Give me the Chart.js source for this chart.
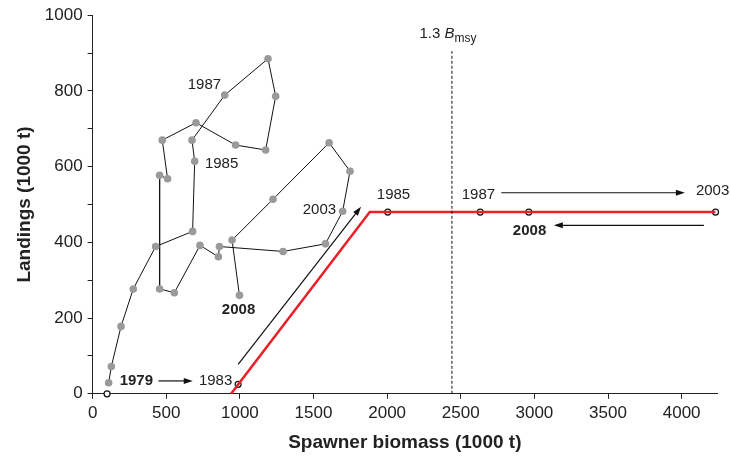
<!DOCTYPE html>
<html>
<head>
<meta charset="utf-8">
<script src="https://cdn.jsdelivr.net/npm/chart.js@4.4.1/dist/chart.umd.min.js"></script>
<style>
  html, body { margin: 0; padding: 0; background: #fff; }
  #wrap { width: 730px; height: 458px; }
</style>
</head>
<body>
<div id="wrap"><canvas id="hcrChart"></canvas></div>
<script>
// 1) data
const years = [1979,1980,1981,1982,1983,1984,1985,1986,1987,1988,1989,1990,1991,1992,1993,
               1994,1995,1996,1997,1998,1999,2000,2001,2002,2003,2004,2005,2006,2007,2008];
const biomass  = [109,127,193,276,428,679,693,675,897,1191,1243,1175,971,702,473,
                  509,455,455,555,729,854,861,1293,1581,1698,1748,1606,1225,947,997];
const landings = [29,72,178,277,389,429,614,670,789,885,786,644,657,716,670,
                  568,577,277,267,392,362,389,376,396,482,588,663,514,406,260];

// harvest control rule (red line)
const hcrX = [940, 1882, 4230];
const hcrY = [0, 480, 480];

// years positioned on the rule (open circles)
const hcrYears = ['1979', '1983', '1985', '1987', '2008', '2003'];
const hcrPtX = [98, 988, 2004, 2632, 2962, 4230];
const hcrPtY = [0, 25, 480, 480, 480, 480];

// 1.3 Bmsy reference line
const bmsyX = 2440;
const bmsyTop = 905;

// axis ticks
const xTicks = [0, 500, 1000, 1500, 2000, 2500, 3000, 3500, 4000];
const yTicks = [0, 100, 200, 300, 400, 500, 600, 700, 800, 900, 1000];

// 2) text labels and arrows (data coordinates)
const labelText = ['1987', '1985', '2003', '2008', '1979', '1983', '1985', '1987', '2003', '2008'];
const labelX    = [759, 876, 1540, 991, 297, 835, 2043, 2620, 4210, 2967];
const labelY    = [815, 607, 485, 222, 34, 34, 525, 525, 535, 430];
const labelBold = [false, false, false, true, true, false, false, false, false, true];

const arrowFrom = [[447, 34], [988, 78], [2775, 531], [4151, 445]];
const arrowTo   = [[680, 34], [1823, 494], [4022, 531], [3132, 445]];

const FONT = 'Arial, "Liberation Sans", sans-serif';
const INK = '#222';

const toPts = (xs, ys) => xs.map((x, i) => ({ x, y: ys[i] }));

// === annotations plugin ===
const annotations = {
  id: 'annotations',
  afterDraw(chart) {
    const { ctx, scales: { x, y } } = chart;
    ctx.save();
    ctx.fillStyle = INK;
    ctx.textBaseline = 'middle';
    ctx.textAlign = 'center';
    labelText.forEach((t, i) => {
      ctx.font = (labelBold[i] ? 'bold ' : '') + '15px ' + FONT;
      ctx.fillText(t, x.getPixelForValue(labelX[i]), y.getPixelForValue(labelY[i]));
    });

    // arrows
    ctx.strokeStyle = '#111';
    ctx.fillStyle = '#111';
    ctx.lineWidth = 1.2;
    arrowFrom.forEach((f, i) => {
      const x1 = x.getPixelForValue(f[0]), y1 = y.getPixelForValue(f[1]);
      const x2 = x.getPixelForValue(arrowTo[i][0]), y2 = y.getPixelForValue(arrowTo[i][1]);
      const a = Math.atan2(y2 - y1, x2 - x1);
      const len = 9, w = 3;
      ctx.beginPath();
      ctx.moveTo(x1, y1);
      ctx.lineTo(x2 - Math.cos(a) * len * 0.8, y2 - Math.sin(a) * len * 0.8);
      ctx.stroke();
      ctx.beginPath();
      ctx.moveTo(x2, y2);
      ctx.lineTo(x2 - Math.cos(a) * len - Math.sin(a) * w, y2 - Math.sin(a) * len + Math.cos(a) * w);
      ctx.lineTo(x2 - Math.cos(a) * len + Math.sin(a) * w, y2 - Math.sin(a) * len - Math.cos(a) * w);
      ctx.closePath();
      ctx.fill();
    });

    // 1.3 Bmsy label
    ctx.fillStyle = INK;
    ctx.textAlign = 'left';
    let px = x.getPixelForValue(2219);
    const py = y.getPixelForValue(950);
    ctx.font = '15px ' + FONT;
    ctx.fillText('1.3 ', px, py);
    px += ctx.measureText('1.3 ').width;
    ctx.font = 'italic 15px ' + FONT;
    ctx.fillText('B', px, py);
    px += ctx.measureText('B').width;
    ctx.font = '12px ' + FONT;
    ctx.fillText('msy', px, py + 5);
    ctx.restore();
  }
};

new Chart(document.getElementById('hcrChart').getContext('2d'), {
  type: 'scatter',
  data: {
    datasets: [
      {
        label: '1.3 Bmsy',
        data: [{ x: bmsyX, y: 0 }, { x: bmsyX, y: bmsyTop }],
        showLine: true,
        borderColor: '#111',
        borderWidth: 1,
        borderDash: [3, 2],
        pointRadius: 0
      },
      {
        label: 'HCR',
        data: toPts(hcrX, hcrY),
        showLine: true,
        borderColor: '#e8212b',
        borderWidth: 2.5,
        pointRadius: 0
      },
      {
        label: 'HCR years',
        data: toPts(hcrPtX, hcrPtY),
        showLine: false,
        pointRadius: 3,
        pointBackgroundColor: '#fff',
        pointBorderColor: '#111',
        pointBorderWidth: 1.2,
        clip: false
      },
      {
        label: 'Landings',
        data: toPts(biomass, landings),
        showLine: true,
        borderColor: '#111',
        borderWidth: 1,
        pointRadius: 3.8,
        pointBackgroundColor: '#9a9a9a',
        pointBorderWidth: 0,
        tension: 0
      }
    ]
  },
  options: {
    responsive: true,
    maintainAspectRatio: false,
    animation: false,
    layout: { padding: { top: 11, right: 13, left: 13, bottom: 4 } },
    plugins: { legend: { display: false }, tooltip: { enabled: false } },
    scales: {
      x: {
        type: 'linear',
        min: 0,
        max: 4240,
        afterBuildTicks: axis => { axis.ticks = xTicks.map(v => ({ value: v })); },
        border: { color: INK, width: 1 },
        grid: { drawOnChartArea: false, drawTicks: true, tickLength: 5, color: INK },
        ticks: { color: INK, font: { family: FONT, size: 17 }, padding: 4, maxRotation: 0, autoSkip: false, callback: v => String(v) },
        title: { display: true, text: 'Spawner biomass (1000 t)', color: INK, font: { family: FONT, size: 19, weight: 'bold' }, padding: { top: 4, bottom: 0 } }
      },
      y: {
        min: 0,
        max: 1000,
        afterBuildTicks: axis => { axis.ticks = yTicks.map(v => ({ value: v })); },
        border: { color: INK, width: 1 },
        grid: { drawOnChartArea: false, drawTicks: true, tickLength: 5, color: INK },
        ticks: {
          autoSkip: false,
          color: INK,
          font: { family: FONT, size: 17 },
          padding: 5,
          callback: v => (v % 200 === 0 ? String(v) : '')
        },
        title: { display: true, text: 'Landings (1000 t)', color: INK, font: { family: FONT, size: 19, weight: 'bold' }, padding: { top: 0, bottom: 4 } }
      }
    }
  },
  plugins: [annotations]
});
</script>
</body>
</html>
